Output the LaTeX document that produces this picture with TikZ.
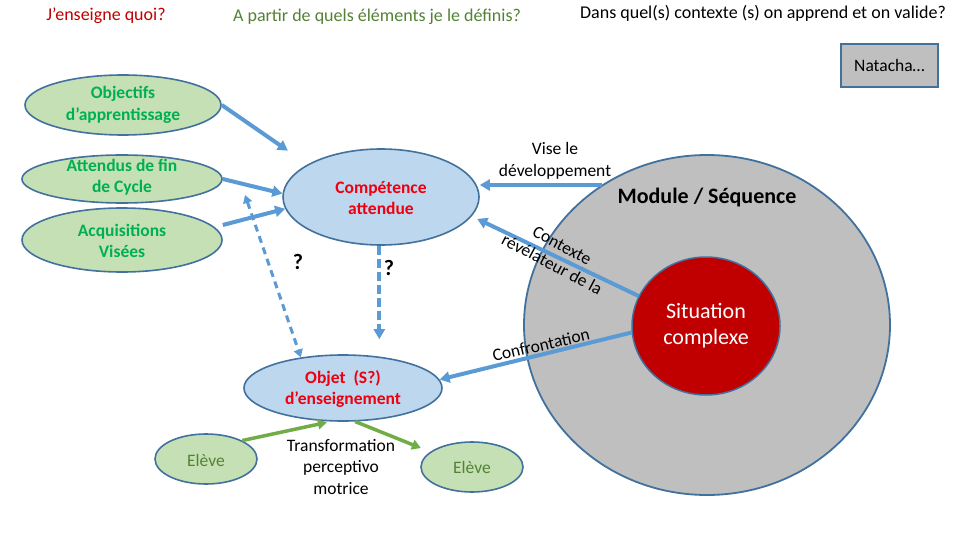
\documentclass[tikz,border=0pt]{standalone}
\usepackage{fontspec}
\setmainfont{Carlito}
\usetikzlibrary{shapes.geometric,arrows.meta}
\definecolor{edgeblue}{HTML}{41719C}
\definecolor{arrowblue}{HTML}{5B9BD5}
\definecolor{arrowgreen}{HTML}{70AD47}
\definecolor{lightgreen}{HTML}{C5E0B4}
\definecolor{lightblue}{HTML}{BDD7EE}
\definecolor{greytone}{HTML}{BFBFBF}
\definecolor{darkred}{HTML}{C00000}
\definecolor{txtgreen}{HTML}{00B050}
\definecolor{olivetxt}{HTML}{548235}
\definecolor{txtred}{HTML}{EE0010}
\begin{document}
\begin{tikzpicture}[x=1pt,y=-1pt,
  base/.style={font=\fontsize{17.5}{21.5}\selectfont, align=center, inner sep=0pt},
  headtxt/.style={base, font=\fontsize{18}{22}\selectfont},
  boldtxt/.style={base, font=\fontsize{17.5}{21.5}\selectfont\bfseries},
  greenell/.style={ellipse, draw=edgeblue, line width=1.6pt, fill=lightgreen, inner sep=0pt},
  blueell/.style={ellipse, draw=edgeblue, line width=1.6pt, fill=lightblue, inner sep=0pt},
  blu/.style={draw=arrowblue, line width=4pt, -{Triangle[length=10pt,width=11pt]}},
  grn/.style={draw=arrowgreen, line width=3.5pt, -{Triangle[length=9pt,width=10pt]}},
  bludash/.style={blu, dash pattern=on 9pt off 4pt},
  dashdouble/.style={draw=arrowblue, line width=3pt, dash pattern=on 7pt off 5pt,
     {Triangle[length=8pt,width=9pt]}-{Triangle[length=8pt,width=9pt]}}
]
\useasboundingbox (0,0) rectangle (960,540);
\fill[white] (0,0) rectangle (960,540);

% header
\node[headtxt, text=darkred] (h1) at (106,16) {J’enseigne quoi?};
\node[headtxt, text=olivetxt] (h2) at (377,17) {A partir de quels éléments je le définis?};
\node[headtxt] (h3) at (763,13) {Dans quel(s) contexte (s) on apprend et on valide?};

% Natacha box
\node[draw=edgeblue, line width=2pt, fill=greytone, minimum width=97, minimum height=43, base] (nat) at (889.5,65.5) {Natacha…};

% module circles
\node[ellipse, draw=edgeblue, line width=1.8pt, fill=greytone, minimum width=366, minimum height=340, inner sep=0pt] (module) at (707,325) {};
\node[ellipse, draw=edgeblue, line width=1.5pt, fill=darkred, minimum width=148, minimum height=138, inner sep=0pt] (sit) at (706,326) {};
\node[base, font=\fontsize{22}{26}\selectfont\bfseries] (modT) at (707,198) {Module / Séquence};
\node[base, font=\fontsize{22}{26}\selectfont, text=white] (sitT) at (706,326) {Situation\\complexe};

% green ellipses
\node[greenell, minimum width=196, minimum height=60] (objectifs) at (123,105) {};
\node[greenell, minimum width=200, minimum height=48] (attendus) at (122,179) {};
\node[greenell, minimum width=200, minimum height=64] (acq) at (122,240) {};
\node[boldtxt, text=txtgreen] (objectifsT) at (123,105) {Objectifs\\d’apprentissage};
\node[boldtxt, text=txtgreen] (attendusT) at (122,177) {Attendus de fin\\de Cycle};
\node[boldtxt, text=txtgreen] (acqT) at (122,241) {Acquisitions\\Visées};

% blue ellipses
\node[blueell, minimum width=196, minimum height=96] (comp) at (381,197) {};
\node[boldtxt, text=txtred] (compT) at (381,198) {Compétence\\attendue};
\node[blueell, minimum width=198, minimum height=66] (objet) at (343,388) {};
\node[boldtxt, text=txtred] (objetT) at (343,389) {Objet~ (S?)\\d’enseignement};

% eleves
\node[greenell, minimum width=102, minimum height=50] (eleveA) at (206,459) {};
\node[greenell, minimum width=102, minimum height=50] (eleveB) at (472,467) {};
\node[base, text=olivetxt] (eleveAT) at (206,460) {Elève};
\node[base, text=olivetxt] (eleveBT) at (472,467) {Elève};
\node[base] (transT) at (341,467) {Transformation\\perceptivo\\motrice};

% arrows left
\draw[blu] (objectifs.east) -- (comp.156) [shorten >=24pt];
\draw[blu] (attendus.east) -- (comp.178);
\draw[blu] ([yshift=15pt]acq.east) -- (comp.-173);
\coordinate (dtop) at (245,195);
\draw[dashdouble] (dtop) -- (objet.144);
\draw[bludash, shorten >=15pt] (comp.-92) -- (comp.-92 |- objet.north);
\node[base, font=\fontsize{22}{26}\selectfont\bfseries] (q1) at (298,262) {?};
\node[base, font=\fontsize{22}{26}\selectfont\bfseries] (q2) at (389,268) {?};

% arrows right
\draw[blu] (module.127) -- (module.127 -| comp.east);
\node[base] (viseT) at (555,161) {Vise le\\développement};
\draw[blu, shorten >=6pt] (sit.156) -- (comp.-12);
\node[base, rotate=-28] (contT) at (557,255) {Contexte\\révélateur de la};
\draw[blu] (sit.185) -- (objet.5);
\node[base, rotate=13] (confT) at (541,345) {Confrontation};

% green arrows
\draw[grn, shorten >=4pt] (eleveA.27) -- (objet.-110);
\draw[grn, shorten >=10pt] (objet.-70) -- (eleveB.160);
\end{tikzpicture}
\end{document}
